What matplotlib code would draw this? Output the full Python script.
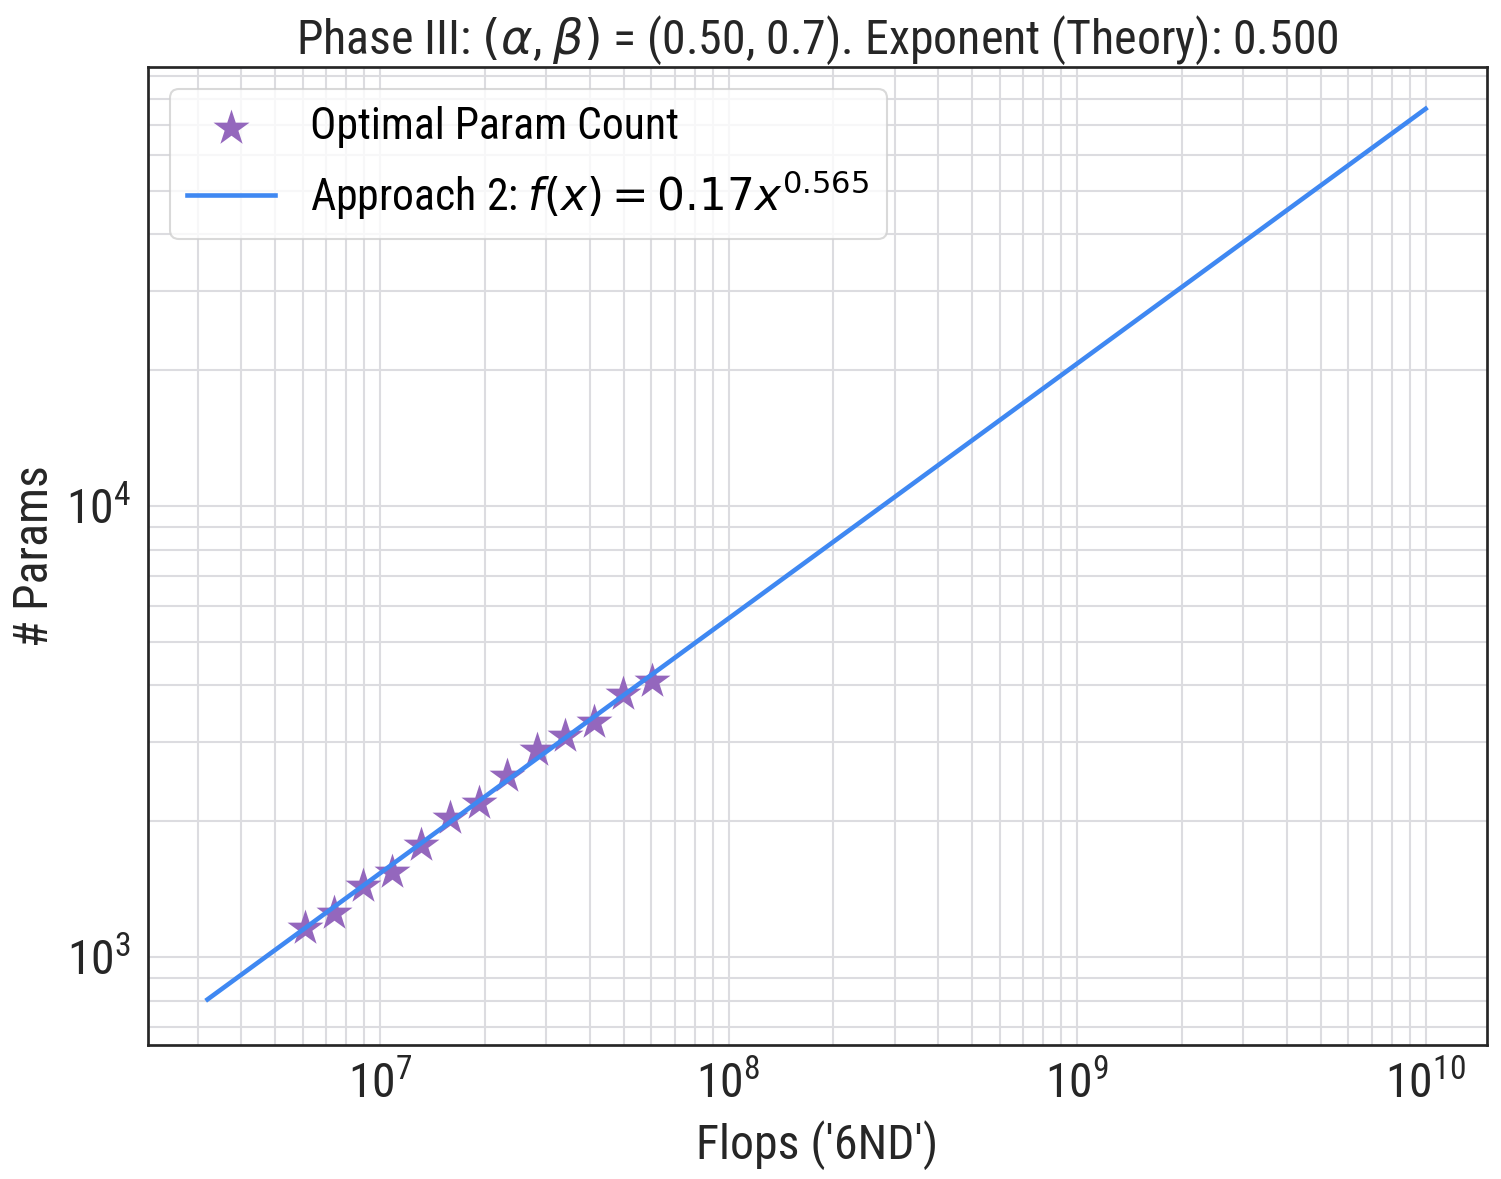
import numpy as np
import matplotlib
matplotlib.use("Agg")
import matplotlib.pyplot as plt
from matplotlib import font_manager

# ---- data ----
flops = [6.10e6, 7.38e6, 8.94e6, 1.08e7, 1.31e7, 1.59e7, 1.92e7, 2.32e7,
         2.82e7, 3.40e7, 4.11e7, 4.99e7, 6.04e7]
params = [1160, 1252, 1436, 1542, 1771, 2033, 2194, 2518, 2876, 3090,
          3321, 3830, 4092]
fit_coef = 0.17
fit_exp = 0.565
fit_xmin = 3.2e6
fit_xmax = 1e10

names = {f.name for f in font_manager.fontManager.ttflist}
fam = "Roboto Condensed" if "Roboto Condensed" in names else "Roboto"
plt.rcParams['font.family'] = [fam, 'DejaVu Sans']
plt.rcParams['mathtext.fontset'] = 'dejavusans'

fig = plt.figure(figsize=(1501/150, 1179/150), dpi=150)
ax = fig.add_axes([148/1501, 1 - 1045/1179, (1487-148)/1501, (1045-67)/1179])

ax.set_xscale('log')
ax.set_yscale('log')
ax.set_xlim(2.16e6, 1.5e10)
ax.set_ylim(638, 94000)

ax.grid(True, which='both', color='#dcdce0', linewidth=1.0)
ax.set_axisbelow(True)
for s in ax.spines.values():
    s.set_color('#262626')
    s.set_linewidth(1.3)
ax.tick_params(which='both', length=0, labelsize=23, colors='#262626', pad=8)

xs = np.logspace(np.log10(fit_xmin), np.log10(fit_xmax), 200)
ax.scatter(flops, params, marker='*', s=330, color='#9467bd', zorder=3,
           label='Optimal Param Count', linewidths=0)
ax.plot(xs, fit_coef * xs ** fit_exp, color='#3f88f2', linewidth=2.2, zorder=4,
        label=r'Approach 2: $f(x) = 0.17x^{0.565}$')

ax.set_xlabel("Flops ('6ND')", fontsize=23, color='#262626', labelpad=6)
ax.set_ylabel("# Params", fontsize=23, color='#262626', labelpad=4)
ax.set_title(r"Phase III: $(\alpha$, $\beta)$ = (0.50, 0.7). Exponent (Theory): 0.500",
             fontsize=23, color='#262626', pad=6)
leg = ax.legend(loc='upper left', fontsize=21, frameon=True, borderpad=0.4,
                handletextpad=0.8, labelspacing=0.45, borderaxespad=0.5)
leg.get_frame().set_edgecolor('#d0d0d0')
leg.get_frame().set_linewidth(1.0)

fig.savefig('out.png', dpi=150)
